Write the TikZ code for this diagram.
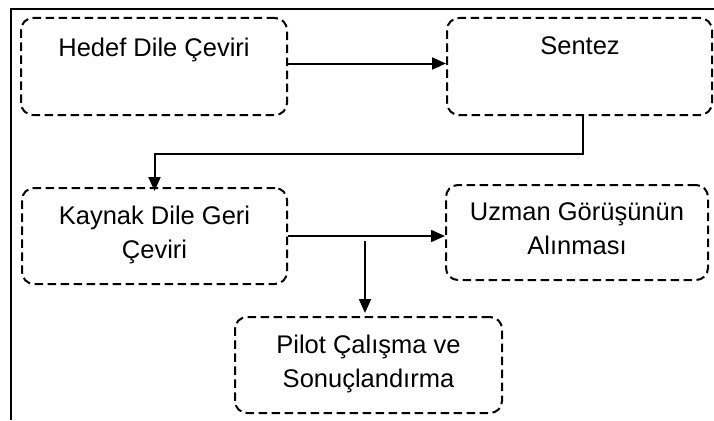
\documentclass[tikz,border=0pt]{standalone}
\usepackage{fontspec}
\setmainfont{Liberation Sans}
\usetikzlibrary{arrows.meta}

\begin{document}
\begin{tikzpicture}[x=1pt,y=-1pt,
  stagebox/.style={draw=black, line width=2pt, dash pattern=on 8.5pt off 4.5pt,
    rounded corners=12pt, inner sep=0pt},
  lbl/.style={font=\fontsize{25.5}{34}\selectfont, align=center, inner sep=0pt, anchor=base},
  flow/.style={line width=2pt, -{Triangle[length=14pt,width=12pt]}}
]
\useasboundingbox (0,0) rectangle (714,420);
\fill[white] (0,0) rectangle (714,420);

% outer frame (top and left edges)
\draw[line width=1.6pt] (11,420) -- (11,9) -- (714,9);

% stage boxes
\node[stagebox, minimum width=266pt, minimum height=97pt] (b1) at (154,66.5) {};
\node[stagebox, minimum width=265pt, minimum height=97pt] (b2) at (579.5,66.5) {};
\node[stagebox, minimum width=265pt, minimum height=96pt] (b3) at (154.5,236) {};
\node[stagebox, minimum width=262pt, minimum height=95pt] (b4) at (577,232.5) {};
\node[stagebox, minimum width=267pt, minimum height=96pt] (b5) at (368.5,365) {};

% stage labels (base anchor sits on the last line)
\node[lbl] (t1) at (154,56.5) {Hedef Dile Çeviri};
\node[lbl] (t2) at (580,55) {Sentez};
\node[lbl] (t3) at (154.5,258.5) {Kaynak Dile Geri\\Çeviri};
\node[lbl] (t4) at (577,254.5) {Uzman Görüşünün\\Alınması};
\node[lbl] (t5) at (368.5,387.5) {Pilot Çalışma ve\\Sonuçlandırma};

% connectors
\coordinate (mid) at (400,154);
\coordinate (drop) at (365,241);
\draw[flow] ([yshift=3pt]b1.east) -- ([yshift=3pt]b1.east -| b2.west);
\draw[flow] ([xshift=3.5pt]b2.south) |- (mid) -| ([yshift=-4pt]b3.north);
\draw[flow] (b3.east) -- (b3.east -| b4.west);
\draw[flow] (drop) -- ([yshift=3pt]drop |- b5.north);
\end{tikzpicture}
\end{document}
